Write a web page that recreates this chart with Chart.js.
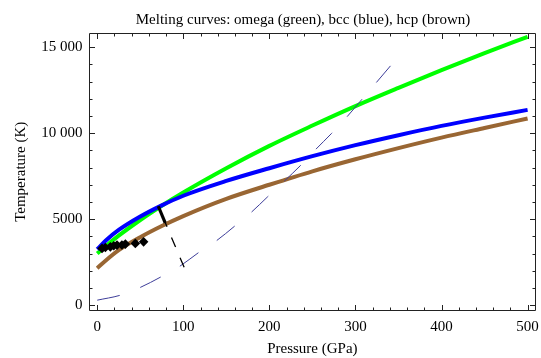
<!DOCTYPE html>
<html><head><meta charset="utf-8">
<script src="https://cdn.jsdelivr.net/npm/chart.js@4"></script>
<style>html,body{margin:0;padding:0;background:#fff;} #c{display:block;}</style>
</head><body>
<canvas id="c" width="541" height="358"></canvas>
<script>
// ---- data ----
const pressureGrid = [0, 10, 25, 50, 75, 100, 150, 200, 250, 300, 350, 400, 450, 500];
const omegaMeltT = [3000, 3440, 4040, 4950, 5780, 6550, 7960, 9260, 10440, 11570, 12630, 13660, 14650, 15600];
const bccMeltT   = [3250, 3760, 4370, 5150, 5800, 6360, 7220, 7960, 8660, 9300, 9880, 10420, 10900, 11350];
const hcpMeltT   = [2150, 2600, 3200, 3950, 4600, 5180, 6180, 7000, 7780, 8480, 9130, 9740, 10300, 10850];

const expP = [5.6, 9.5, 15.3, 19.2, 23, 28.7, 32.7, 44.3, 53.9];
const expT = [3300, 3350, 3390, 3450, 3490, 3500, 3550, 3590, 3680];

const hugoniotP = [0, 27, 50, 74.3, 96.2, 117.3, 138.4, 159.6, 178.8, 198, 216.5, 235.8, 253, 272.2, 289.5, 306.8, 323.4, 340.7];
const hugoniotT = [290, 580, 1030, 1650, 2270, 3040, 3740, 4590, 5390, 6300, 7170, 8100, 9010, 9980, 10910, 11920, 12890, 13910];

const arrowP = [101, 71];
const arrowT = [2200, 5750];
const arrowHeadP = [79, 71];
const arrowHeadT = [4790, 5750];

const xTickValues = [0, 100, 200, 300, 400, 500];
const xTickLabels = ['0', '100', '200', '300', '400', '500'];
const yTickValues = [0, 5000, 10000, 15000];
const yTickLabels = ['0', '5000', '10 000', '15 000'];

const titleText = 'Melting curves: omega (green), bcc (blue), hcp (brown)';
const xTitle = 'Pressure (GPa)';
const yTitle = 'Temperature (K)';

// ---- build chart ----
function pts(xs, ys) { return xs.map((x, i) => ({ x: x, y: ys[i] })); }
const FONT = { family: 'Liberation Serif', size: 15 };

const frameTicks = {
  id: 'frameTicks',
  afterDatasetsDraw(chart) {
    const ctx = chart.ctx, a = chart.chartArea;
    const xs = chart.scales.x, ys = chart.scales.y;
    const L = Math.round(a.left) + 0.5, R = Math.round(a.right) - 0.5;
    const T = Math.round(a.top) + 0.5, B = Math.round(a.bottom) - 0.5;
    ctx.save();
    ctx.strokeStyle = '#222';
    ctx.lineWidth = 1;
    ctx.beginPath();
    ctx.rect(L, T, R - L, B - T);
    for (let v = 0; v <= 500; v += 20) {
      const px = Math.round(xs.getPixelForValue(v)) + 0.5;
      const len = (v % 100 === 0) ? 5.5 : 3;
      ctx.moveTo(px, B); ctx.lineTo(px, B - len);
      ctx.moveTo(px, T); ctx.lineTo(px, T + len);
    }
    for (let v = 0; v <= 15000; v += 1000) {
      const py = Math.round(ys.getPixelForValue(v)) + 0.5;
      const len = (v % 5000 === 0) ? 5.5 : 3;
      ctx.moveTo(L, py); ctx.lineTo(L + len, py);
      ctx.moveTo(R, py); ctx.lineTo(R - len, py);
    }
    ctx.stroke();
    ctx.restore();
  },
  afterDraw(chart) {
    const ctx = chart.ctx;
    ctx.save();
    ctx.fillStyle = '#000';
    ctx.font = '15px "Liberation Serif"';
    ctx.textAlign = 'center';
    ctx.textBaseline = 'alphabetic';
    ctx.fillText(titleText, 303, 24);
    ctx.restore();
  }
};

new Chart(document.getElementById('c'), {
  type: 'scatter',
  data: {
    datasets: [
      { label: 'exp', data: pts(expP, expT), showLine: false, pointStyle: 'rectRot',
        pointRadius: 4.8, pointBackgroundColor: '#000', pointBorderColor: '#000', pointBorderWidth: 0, order: 0 },
      { label: 'arrowhead', data: pts(arrowHeadP, arrowHeadT), showLine: true, borderColor: '#000',
        borderWidth: 3.2, pointRadius: 0, order: 1 },
      { label: 'arrow', data: pts(arrowP, arrowT), showLine: true, borderColor: '#000',
        borderWidth: 1.3, borderDash: [10.5, 11.5], pointRadius: 0, order: 2 },
      { label: 'hugoniot', data: pts(hugoniotP, hugoniotT), showLine: true, borderColor: '#3d3d99',
        borderWidth: 1, borderDash: [23, 22], pointRadius: 0, cubicInterpolationMode: 'monotone', order: 3 },
      { label: 'hcp', data: pts(pressureGrid, hcpMeltT), showLine: true, borderColor: '#996633',
        borderWidth: 4, pointRadius: 0, cubicInterpolationMode: 'monotone', order: 4 },
      { label: 'bcc', data: pts(pressureGrid, bccMeltT), showLine: true, borderColor: '#0000ff',
        borderWidth: 4, pointRadius: 0, cubicInterpolationMode: 'monotone', order: 5 },
      { label: 'omega', data: pts(pressureGrid, omegaMeltT), showLine: true, borderColor: '#00ff00',
        borderWidth: 4, pointRadius: 0, cubicInterpolationMode: 'monotone', order: 6 }
    ]
  },
  options: {
    responsive: false,
    devicePixelRatio: 1,
    animation: false,
    layout: { padding: { left: 0, top: 33, right: 1.5, bottom: 0 } },
    plugins: { legend: { display: false }, tooltip: { enabled: false }, title: { display: false } },
    scales: {
      x: {
        type: 'linear', min: -10, max: 510,
        grid: { display: false, drawTicks: false },
        border: { display: false },
        afterBuildTicks: s => { s.ticks = xTickValues.map(v => ({ value: v })); },
        afterFit: s => { s.height = 47.5; s.paddingLeft = 0; s.paddingRight = 0; },
        ticks: { autoSkip: false, maxRotation: 0, padding: 8, color: '#000', font: FONT,
          callback: (v) => { const i = xTickValues.indexOf(v); return i >= 0 ? xTickLabels[i] : ''; } },
        title: { display: true, text: xTitle, color: '#000', font: FONT, padding: { top: 0, bottom: 0 } }
      },
      y: {
        type: 'linear', min: -310, max: 15820,
        grid: { display: false, drawTicks: false },
        border: { display: false },
        afterBuildTicks: s => { s.ticks = yTickValues.map(v => ({ value: v })); },
        afterFit: s => { s.width = 88.6; s.paddingTop = 0; s.paddingBottom = 0; },
        ticks: { autoSkip: false, padding: 6, color: '#000', font: FONT,
          callback: (v) => { const i = yTickValues.indexOf(v); return i >= 0 ? yTickLabels[i] : ''; } },
        title: { display: true, text: yTitle, color: '#000', font: FONT, padding: { top: 12, bottom: 0 } }
      }
    }
  },
  plugins: [frameTicks]
});
</script>
</body></html>
